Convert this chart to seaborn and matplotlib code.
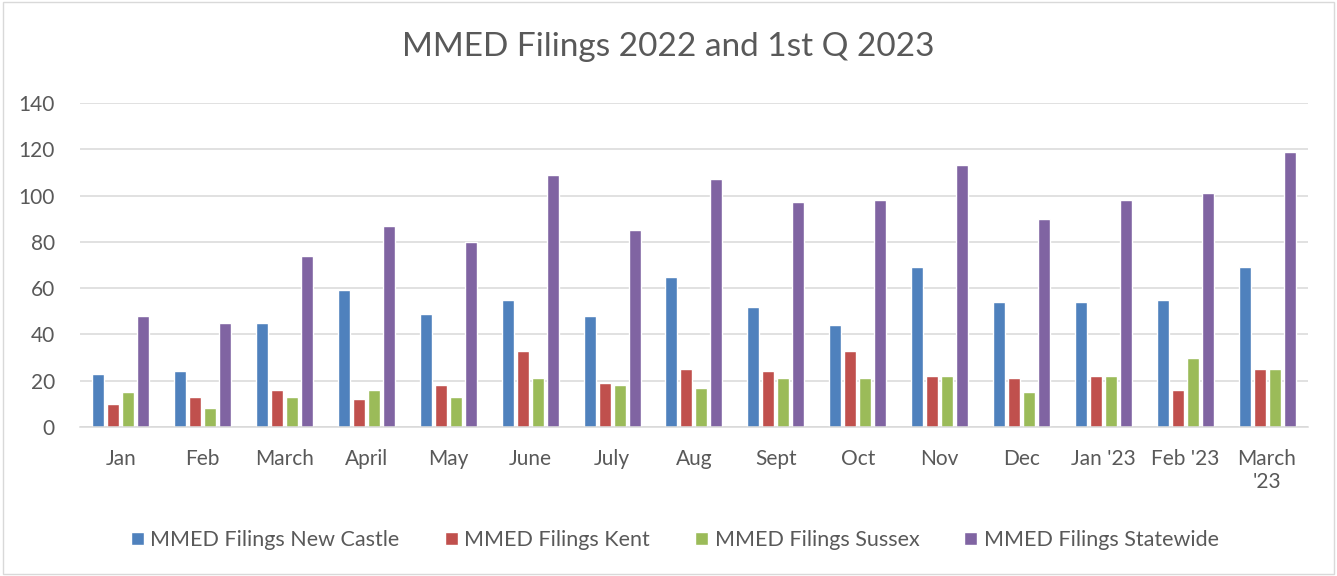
import pandas as pd
import matplotlib
matplotlib.use('Agg')
import matplotlib.pyplot as plt
import seaborn as sns
from matplotlib.patches import Rectangle

# ── Data ──────────────────────────────────────────────────────────────────────
months = ['Jan', 'Feb', 'March', 'April', 'May', 'June', 'July', 'Aug', 'Sept',
          'Oct', 'Nov', 'Dec', "Jan '23", "Feb '23", "March\n'23"]
new_castle = [23, 24, 45, 59, 49, 55, 48, 65, 52, 44, 69, 54, 54, 55, 69]
kent       = [10, 13, 16, 12, 18, 33, 19, 25, 24, 33, 22, 21, 22, 16, 25]
sussex     = [15, 8, 13, 16, 13, 21, 18, 17, 21, 21, 22, 15, 22, 30, 25]
statewide  = [48, 45, 74, 87, 80, 109, 85, 107, 97, 98, 113, 90, 98, 101, 119]

series = ['MMED Filings New Castle', 'MMED Filings Kent',
          'MMED Filings Sussex', 'MMED Filings Statewide']
colors = ['#4F81BD', '#C0504D', '#9BBB59', '#8064A2']

df = pd.DataFrame({'month': months, series[0]: new_castle, series[1]: kent,
                   series[2]: sussex, series[3]: statewide})
long = df.melt(id_vars='month', var_name='series', value_name='filings')

# ── Plot ──────────────────────────────────────────────────────────────────────
sns.set_style('white')
plt.rcParams['font.family'] = ['Lato', 'DejaVu Sans']
text_col = '#595959'

fig = plt.figure(figsize=(13.37, 5.76), dpi=100)
ax = fig.add_axes([0.0598, 0.2587, 0.9185, 0.5626])

sns.barplot(data=long, x='month', y='filings', hue='series', hue_order=series,
            palette=colors, width=0.733, gap=0.2, saturation=1,
            order=months, ax=ax, legend=True)

ax.set_ylim(0, 140)
ax.set_yticks(range(0, 141, 20))
ax.set_xlim(-0.5, len(months) - 0.5)
ax.yaxis.grid(True, color='#D9D9D9', linewidth=1.1)
ax.set_axisbelow(True)
for side in ['left', 'right', 'top']:
    ax.spines[side].set_visible(False)
ax.spines['bottom'].set_color('#D9D9D9')
ax.spines['bottom'].set_linewidth(1.1)
ax.tick_params(axis='both', length=0, labelsize=15, colors=text_col)
ax.tick_params(axis='x', pad=16)
ax.tick_params(axis='y', pad=18)
ax.set_xlabel('')
ax.set_ylabel('')

fig.suptitle('MMED Filings 2022 and 1st Q 2023', y=0.945, fontsize=24,
             color=text_col)

ax.legend(loc='center', bbox_to_anchor=(0.4845, -0.349), ncol=4,
          frameon=False, fontsize=15.5, labelcolor=text_col, handlelength=0.6,
          handleheight=0.6, handletextpad=0.3, columnspacing=2.1)

fig.patches.append(Rectangle((0.002, 0.003), 0.996, 0.994,
                             transform=fig.transFigure, fill=False,
                             edgecolor='#D9D9D9', linewidth=1))

fig.savefig('out.png', dpi=100)
